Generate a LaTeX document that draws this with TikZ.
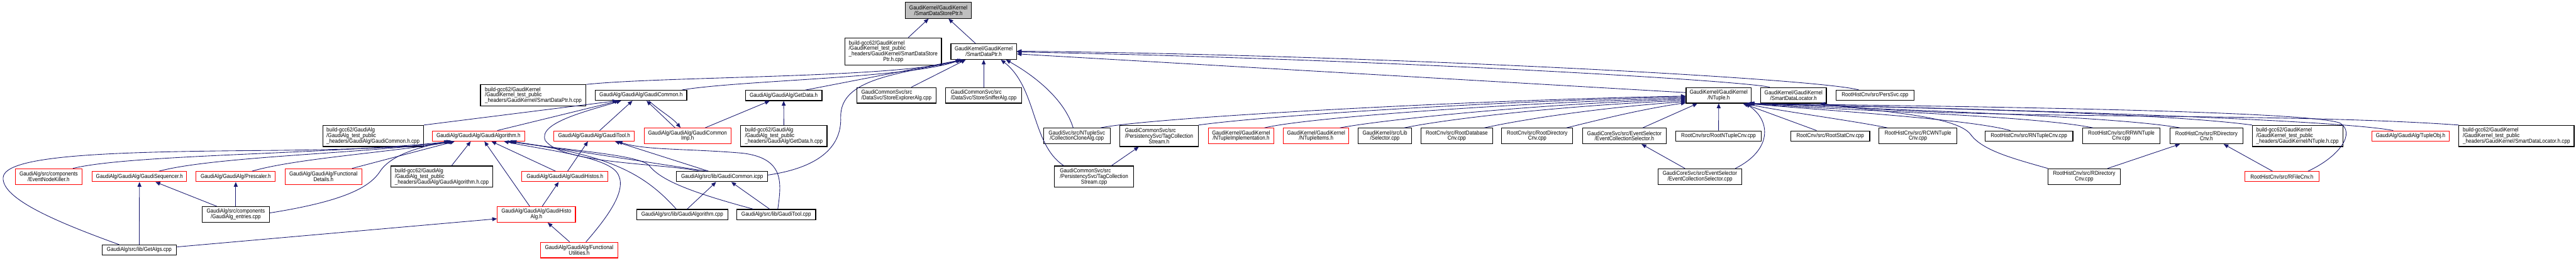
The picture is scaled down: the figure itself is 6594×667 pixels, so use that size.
\documentclass[tikz,border=0pt]{standalone}
\usepackage{fontspec}
\setmainfont{Liberation Sans}[FakeStretch=0.88]
\usetikzlibrary{arrows.meta,calc}
\definecolor{eb}{HTML}{191970}
\definecolor{rb}{HTML}{FF0000}
\definecolor{gf}{HTML}{BFBFBF}
\newcommand\mlab[2]{\vbox{\baselineskip=14.3pt\lineskiplimit=-100pt\lineskip=0pt\halign{##\hfil\cr#1\cr\omit\hfil#2\hfil\cr}}}
\newcommand\bx[7]{\node[#1, minimum width=#5pt, minimum height=#6pt] (#2) at (#3,#4) {#7};}
\begin{document}
\begin{tikzpicture}[x=1pt,y=-1pt,
 nd/.style={draw=black, line width=1.8pt, fill=white, inner sep=0pt, text=black, font=\fontsize{14.8}{14.3}\selectfont},
 rd/.style={nd, draw=rb},
 gr/.style={nd, fill=gf},
 ed/.style={draw=eb, line width=1.4pt, -{Triangle[length=12pt,width=10pt]}}]
\useasboundingbox (0,0) rectangle (6594,667);
\fill[white] (0,0) rectangle (6594,667);
% row 0
\bx{gr}{root}{2402}{26.5}{168}{41}{\mlab{GaudiKernel/GaudiKernel}{/SmartDataStorePtr.h}}
% row 1
\bx{nd}{sdspcpp}{2286.5}{132}{247}{70}{\mlab{build-gcc62/GaudiKernel\cr/GaudiKernel\_test\_public\cr\_headers/GaudiKernel/SmartDataStore}{Ptr.h.cpp}}
\bx{nd}{sdp}{2518}{132}{168}{40}{\mlab{GaudiKernel/GaudiKernel}{/SmartDataPtr.h}}
% row 2
\bx{nd}{sdpcpp}{1365}{244}{270}{54}{\mlab{build-gcc62/GaudiKernel\cr/GaudiKernel\_test\_public}{\_headers/GaudiKernel/SmartDataPtr.h.cpp}}
\bx{nd}{gch}{1641}{244}{234}{26}{GaudiAlg/GaudiAlg/GaudiCommon.h}
\bx{nd}{getdata}{2006}{244.5}{196}{26}{GaudiAlg/GaudiAlg/GetData.h}
\bx{nd}{storeexp}{2294.5}{244}{203}{40}{\mlab{GaudiCommonSvc/src}{/DataSvc/StoreExplorerAlg.cpp}}
\bx{nd}{storesniff}{2518}{244}{194}{40}{\mlab{GaudiCommonSvc/src}{/DataSvc/StoreSnifferAlg.cpp}}
\bx{nd}{ntuple}{4399.5}{244}{167}{40}{\mlab{GaudiKernel/GaudiKernel}{/NTuple.h}}
\bx{nd}{sdl}{4591}{244}{168}{40}{\mlab{GaudiKernel/GaudiKernel}{/SmartDataLocator.h}}
\bx{nd}{perssvc}{4799.5}{244}{199}{26}{RootHistCnv/src/PersSvc.cpp}
% row 3
\bx{nd}{gchcpp}{955}{348}{258}{54}{\mlab{build-gcc62/GaudiAlg\cr/GaudiAlg\_test\_public}{\_headers/GaudiAlg/GaudiCommon.h.cpp}}
\bx{rd}{galgh}{1225}{348}{236}{26}{GaudiAlg/GaudiAlg/GaudiAlgorithm.h}
\bx{rd}{gtoolh}{1521}{348}{206}{26}{GaudiAlg/GaudiAlg/GaudiTool.h}
\bx{rd}{gcimp}{1760}{348}{222}{40}{\mlab{GaudiAlg/GaudiAlg/GaudiCommon}{Imp.h}}
\bx{nd}{getdatacpp}{2006.5}{348}{221}{54}{\mlab{build-gcc62/GaudiAlg\cr/GaudiAlg\_test\_public}{\_headers/GaudiAlg/GetData.h.cpp}}
\bx{nd}{cca}{2756.5}{348}{171}{40}{\mlab{GaudiSvc/src/NTupleSvc}{/CollectionCloneAlg.cpp}}
\bx{nd}{tcsh}{2967}{348}{202}{54}{\mlab{GaudiCommonSvc/src\cr/PersistencySvc/TagCollection}{Stream.h}}
\bx{rd}{ntimpl}{3177}{348}{168}{40}{\mlab{GaudiKernel/GaudiKernel}{/NTupleImplementation.h}}
\bx{rd}{ntitems}{3369}{348}{168}{40}{\mlab{GaudiKernel/GaudiKernel}{/NTupleItems.h}}
\bx{nd}{selector}{3545}{348}{136}{40}{\mlab{GaudiKernel/src/Lib}{/Selector.cpp}}
\bx{nd}{rdbcnv}{3729}{348}{184}{40}{\mlab{RootCnv/src/RootDatabase}{Cnv.cpp}}
\bx{nd}{rdircnvcpp}{3935}{348}{182}{40}{\mlab{RootCnv/src/RootDirectory}{Cnv.cpp}}
\bx{nd}{ecsh}{4158}{348}{214}{40}{\mlab{GaudiCoreSvc/src/EventSelector}{/EventCollectionSelector.h}}
\bx{nd}{rntcnv}{4399}{348}{218}{26}{RootCnv/src/RootNTupleCnv.cpp}
\bx{nd}{rstat}{4685}{348}{202}{26}{RootCnv/src/RootStatCnv.cpp}
\bx{nd}{rcwn}{4909.5}{348}{199}{40}{\mlab{RootHistCnv/src/RCWNTuple}{Cnv.cpp}}
\bx{nd}{rntuplecnv}{5193.5}{348}{225}{26}{RootHistCnv/src/RNTupleCnv.cpp}
\bx{nd}{rrwn}{5430}{348}{198}{40}{\mlab{RootHistCnv/src/RRWNTuple}{Cnv.cpp}}
\bx{nd}{rdircnvh}{5648}{348}{186}{40}{\mlab{RootHistCnv/src/RDirectory}{Cnv.h}}
\bx{nd}{ntuplecpp}{5881}{348}{232}{54}{\mlab{build-gcc62/GaudiKernel\cr/GaudiKernel\_test\_public}{\_headers/GaudiKernel/NTuple.h.cpp}}
\bx{rd}{tupleobj}{6170.5}{348}{199}{26}{GaudiAlg/GaudiAlg/TupleObj.h}
\bx{nd}{sdlcpp}{6441.5}{348}{295}{54}{\mlab{build-gcc62/GaudiKernel\cr/GaudiKernel\_test\_public}{\_headers/GaudiKernel/SmartDataLocator.h.cpp}}
% row 4
\bx{rd}{enk}{124.5}{452}{171}{40}{\mlab{GaudiAlg/src/components}{/EventNodeKiller.h}}
\bx{rd}{gseq}{357}{452}{242}{26}{GaudiAlg/GaudiAlg/GaudiSequencer.h}
\bx{rd}{presc}{603.5}{452}{203}{26}{GaudiAlg/GaudiAlg/Prescaler.h}
\bx{rd}{fdet}{828}{452}{196}{40}{\mlab{GaudiAlg/GaudiAlg/Functional}{Details.h}}
\bx{nd}{galghcpp}{1131}{452}{261}{54}{\mlab{build-gcc62/GaudiAlg\cr/GaudiAlg\_test\_public}{\_headers/GaudiAlg/GaudiAlgorithm.h.cpp}}
\bx{rd}{ghistos}{1446}{452}{220}{26}{GaudiAlg/GaudiAlg/GaudiHistos.h}
\bx{nd}{gcicpp}{1848.5}{452}{233}{26}{GaudiAlg/src/lib/GaudiCommon.icpp}
\bx{nd}{tcscpp}{2800.5}{452}{203}{54}{\mlab{GaudiCommonSvc/src\cr/PersistencySvc/TagCollection}{Stream.cpp}}
\bx{nd}{ecscpp}{4351.5}{452}{215}{40}{\mlab{GaudiCoreSvc/src/EventSelector}{/EventCollectionSelector.cpp}}
\bx{nd}{rdircnvcpp2}{5335}{452}{186}{40}{\mlab{RootHistCnv/src/RDirectory}{Cnv.cpp}}
\bx{rd}{rfilecnv}{5841}{452}{190}{26}{RootHistCnv/src/RFileCnv.h}
% row 5
\bx{nd}{entries}{603.5}{549}{173}{40}{\mlab{GaudiAlg/src/components}{/GaudiAlg\_entries.cpp}}
\bx{rd}{ghistoalg}{1373}{549}{200}{40}{\mlab{GaudiAlg/GaudiAlg/GaudiHisto}{Alg.h}}
\bx{nd}{galgcpp}{1746.5}{549}{233}{26}{GaudiAlg/src/lib/GaudiAlgorithm.cpp}
\bx{nd}{gtoolcpp}{1987}{549}{202}{26}{GaudiAlg/src/lib/GaudiTool.cpp}
% row 6
\bx{nd}{getalgs}{356.5}{640}{191}{26}{GaudiAlg/src/lib/GetAlgs.cpp}
\bx{rd}{futil}{1482.5}{640}{197}{40}{\mlab{GaudiAlg/GaudiAlg/Functional}{Utilities.h}}
% ---- edges
\draw[ed] ($(sdspcpp.north)+(38.5,0)$) -- ($(root.south)+(-25,0)$);
\draw[ed] ($(sdp.north)+(-21,0)$) -- ($(root.south)+(26,0)$);
\draw[ed] ($(gch.north)+(105,0)$) .. controls (1900,205) and (2330,200) .. ($(sdp.south)+(-58,0)$);
\draw[ed] (sdpcpp.north east) .. controls (1700,195) and (2300,200) .. ($(sdp.south)+(-60,0)$);
\draw[ed] ($(getdata.north)+(55,0)$) -- ($(sdp.south)+(-55,0)$);
\draw[ed] ($(gcicpp.east)+(0,-4)$) .. controls (2090,430) and (2155,380) .. (2152,300) .. controls (2150,200) and (2300,190) .. ($(sdp.south)+(-50,0)$);
\draw[ed] ($(storeexp.north)+(38.5,0)$) -- ($(sdp.south)+(-46,0)$);
\draw[ed] (storesniff.north) -- (sdp.south);
\draw[ed] ($(cca.north)+(-9.5,0)$) .. controls (2725,255) and (2650,195) .. ($(sdp.south)+(57,0)$);
\draw[ed] ($(tcscpp.north)+(-77.5,0)$) .. controls (2640,370) and (2655,225) .. ($(sdp.south)+(44,0)$);
\draw[ed] ($(ntuple.west)+(0,-7)$) -- ($(sdp.east)+(0,6)$);
\draw[ed] ($(sdl.north)+(-61,0)$) .. controls (4450,205) and (3500,150) .. ($(sdp.east)+(0,1)$);
\draw[ed] ($(perssvc.north)+(-41.5,0)$) .. controls (4650,200) and (3500,140) .. ($(sdp.east)+(0,-1)$);
\draw[ed] (gchcpp.north east) -- ($(gch.south)+(-61,0)$);
\draw[ed] ($(galgh.north)+(48,0)$) -- ($(gch.south)+(-56,0)$);
\draw[ed] ($(gcicpp.north)+(-58.5,0)$) .. controls (1700,418) and (1440,420) .. (1396,360) .. controls (1375,315) and (1500,285) .. ($(gch.south)+(-51,0)$);
\draw[ed] ($(gtoolh.north)+(14,0)$) -- ($(gch.south)+(-22,0)$);
\draw[ed] ($(gcimp.north)+(-32,0)$) -- ($(gch.south)+(14,0)$);
\draw[ed] ($(gch.south)+(20,0)$) .. controls (1690,285) and (1720,300) .. ($(gcimp.north)+(-18,0)$);
\draw[ed] ($(gcimp.north)+(45,0)$) -- ($(getdata.south)+(-36,0)$);
\draw[ed] (getdatacpp.north) -- (getdata.south);
\draw[ed] ($(enk.north)+(62,0)$) .. controls (330,395) and (850,395) .. ($(galgh.south)+(-70,0)$);
\draw[ed] ($(gseq.north)+(50,0)$) .. controls (550,400) and (950,392) .. ($(galgh.south)+(-67,0)$);
\draw[ed] ($(presc.north)+(41.5,0)$) .. controls (760,405) and (1000,390) .. ($(galgh.south)+(-64,0)$);
\draw[ed] ($(fdet.north)+(73,0)$) -- ($(galgh.south)+(-61,0)$);
\draw[ed] ($(getalgs.north)+(-51.5,0)$) .. controls (150,570) and (5,510) .. (8,455) .. controls (10,395) and (300,388) .. (700,385) .. controls (950,382) and (1080,375) .. ($(galgh.south)+(-73,0)$);
\draw[ed] ($(entries.east)+(0,-4)$) .. controls (880,515) and (945,480) .. (972,440) .. controls (1000,395) and (1080,375) .. ($(galgh.south)+(-76,0)$);
\draw[ed] ($(galghcpp.north)+(25,0)$) -- ($(galgh.south)+(-20,0)$);
\draw[ed] ($(ghistoalg.north)+(-17,0)$) -- ($(galgh.south)+(15,0)$);
\draw[ed] ($(ghistos.north)+(-24,0)$) -- ($(galgh.south)+(33,0)$);
\draw[ed] ($(gcicpp.north)+(-40,0)$) -- ($(galgh.south)+(85,0)$);
\draw[ed] ($(galgcpp.north)+(-15.5,0)$) .. controls (1650,445) and (1560,395) .. ($(galgh.south)+(75,0)$);
\draw[ed] ($(gtoolcpp.north)+(-59,0)$) .. controls (1760,490) and (1690,460) .. (1661,423) .. controls (1630,395) and (1450,385) .. ($(galgh.south)+(80,0)$);
\draw[ed] ($(futil.north)+(17.5,0)$) .. controls (1560,550) and (1610,480) .. (1578,440) .. controls (1545,400) and (1400,385) .. ($(galgh.south)+(65,0)$);
\draw[ed] ($(ghistos.north)+(7,0)$) -- ($(gtoolh.south)+(-16,0)$);
\draw[ed] ($(gcicpp.north)+(-35,0)$) -- ($(gtoolh.south)+(53,0)$);
\draw[ed] ($(gtoolcpp.north)+(4,0)$) .. controls (2000,470) and (2010,405) .. (1900,392) .. controls (1760,380) and (1650,385) .. ($(gtoolh.south)+(60,0)$);
\draw[ed] ($(galgcpp.north)+(12.5,0)$) -- ($(gcicpp.south)+(-15.5,0)$);
\draw[ed] ($(gtoolcpp.north)+(-17,0)$) -- ($(gcicpp.south)+(23.5,0)$);
\draw[ed] ($(ghistoalg.north)+(15,0)$) -- ($(ghistos.south)+(-16,0)$);
\draw[ed] ($(getalgs.east)+(0,-8)$) -- ($(ghistoalg.west)+(0,11)$);
\draw[ed] ($(futil.north)+(-24.5,0)$) -- ($(ghistoalg.south)+(29,0)$);
\draw[ed] (getalgs.north) -- (gseq.south);
\draw[ed] ($(entries.north)+(-48.5,0)$) -- ($(gseq.south)+(41,0)$);
\draw[ed] (entries.north) -- (presc.south);
\draw[ed] ($(tcscpp.north)+(44.5,0)$) -- ($(tcsh.south)+(-52,0)$);
\draw[ed] ($(ecscpp.north)+(-38.5,0)$) -- ($(ecsh.south)+(44,0)$);
\draw[ed] ($(cca.north)+(60.5,0)$) .. controls (2950,300) and (3800,255) .. ($(ntuple.west)+(0,2)$);
\draw[ed] ($(tcsh.north)+(101,0)$) .. controls (3250,295) and (3850,258) .. ($(ntuple.west)+(0,4)$);
\draw[ed] ($(ntimpl.north)+(60,0)$) .. controls (3350,300) and (3900,262) .. ($(ntuple.west)+(0,7)$);
\draw[ed] ($(ntitems.north)+(61,0)$) .. controls (3550,305) and (3950,265) .. ($(ntuple.west)+(0,10)$);
\draw[ed] ($(selector.north)+(50,0)$) .. controls (3700,305) and (4000,270) .. ($(ntuple.west)+(0,13)$);
\draw[ed] ($(rdbcnv.north)+(71,0)$) .. controls (3900,305) and (4100,275) .. ($(ntuple.west)+(0,16)$);
\draw[ed] ($(rdircnvcpp.north)+(75,0)$) .. controls (4100,305) and (4200,280) .. ($(ntuple.west)+(0,19)$);
\draw[ed] ($(ecsh.north)+(47,0)$) -- ($(ntuple.south)+(-54.5,0)$);
\draw[ed] (rntcnv.north) -- (ntuple.south);
\draw[ed] ($(ecscpp.north)+(90.5,0)$) .. controls (4535,385) and (4535,310) .. ($(ntuple.south)+(68.5,0)$);
\draw[ed] ($(rstat.north)+(-35,0)$) -- ($(ntuple.south)+(62,0)$);
\draw[ed] ($(rcwn.north)+(-78.5,0)$) .. controls (4750,310) and (4560,285) .. ($(ntuple.south)+(66,0)$);
\draw[ed] ($(rntuplecnv.north)+(-47.5,0)$) .. controls (5040,305) and (4700,285) .. ($(ntuple.south)+(70,0)$);
\draw[ed] ($(rrwn.north)+(-73,0)$) .. controls (5200,295) and (4700,282) .. ($(ntuple.south)+(72,0)$);
\draw[ed] ($(rdircnvh.north)+(-68,0)$) .. controls (5400,295) and (4750,278) .. ($(ntuple.south)+(74,0)$);
\draw[ed] ($(ntuplecpp.north)+(-116,0)$) .. controls (5500,285) and (4800,275) .. ($(ntuple.south)+(76,0)$);
\draw[ed] ($(tupleobj.north)+(-44.5,0)$) .. controls (5950,300) and (4800,272) .. ($(ntuple.south)+(78,0)$);
\draw[ed] ($(rfilecnv.north)+(67,0)$) .. controls (5990,400) and (6030,340) .. (5990,315) .. controls (5900,280) and (4800,270) .. ($(ntuple.south)+(80,0)$);
\draw[ed] ($(rdircnvcpp2.north)+(-93,0)$) .. controls (5150,405) and (5075,385) .. (5045,345) .. controls (5010,295) and (4800,285) .. ($(sdl.south)+(67,0)$);
\draw[ed] ($(sdlcpp.north)+(-147.5,0)$) .. controls (5800,285) and (5000,310) .. ($(sdl.south)+(69,0)$);
\draw[ed] ($(rdircnvcpp2.north)+(60,0)$) -- ($(rdircnvh.south)+(-68,0)$);
\draw[ed] ($(rfilecnv.north)+(-24,0)$) -- ($(rdircnvh.south)+(44,0)$);
\end{tikzpicture}
\end{document}
